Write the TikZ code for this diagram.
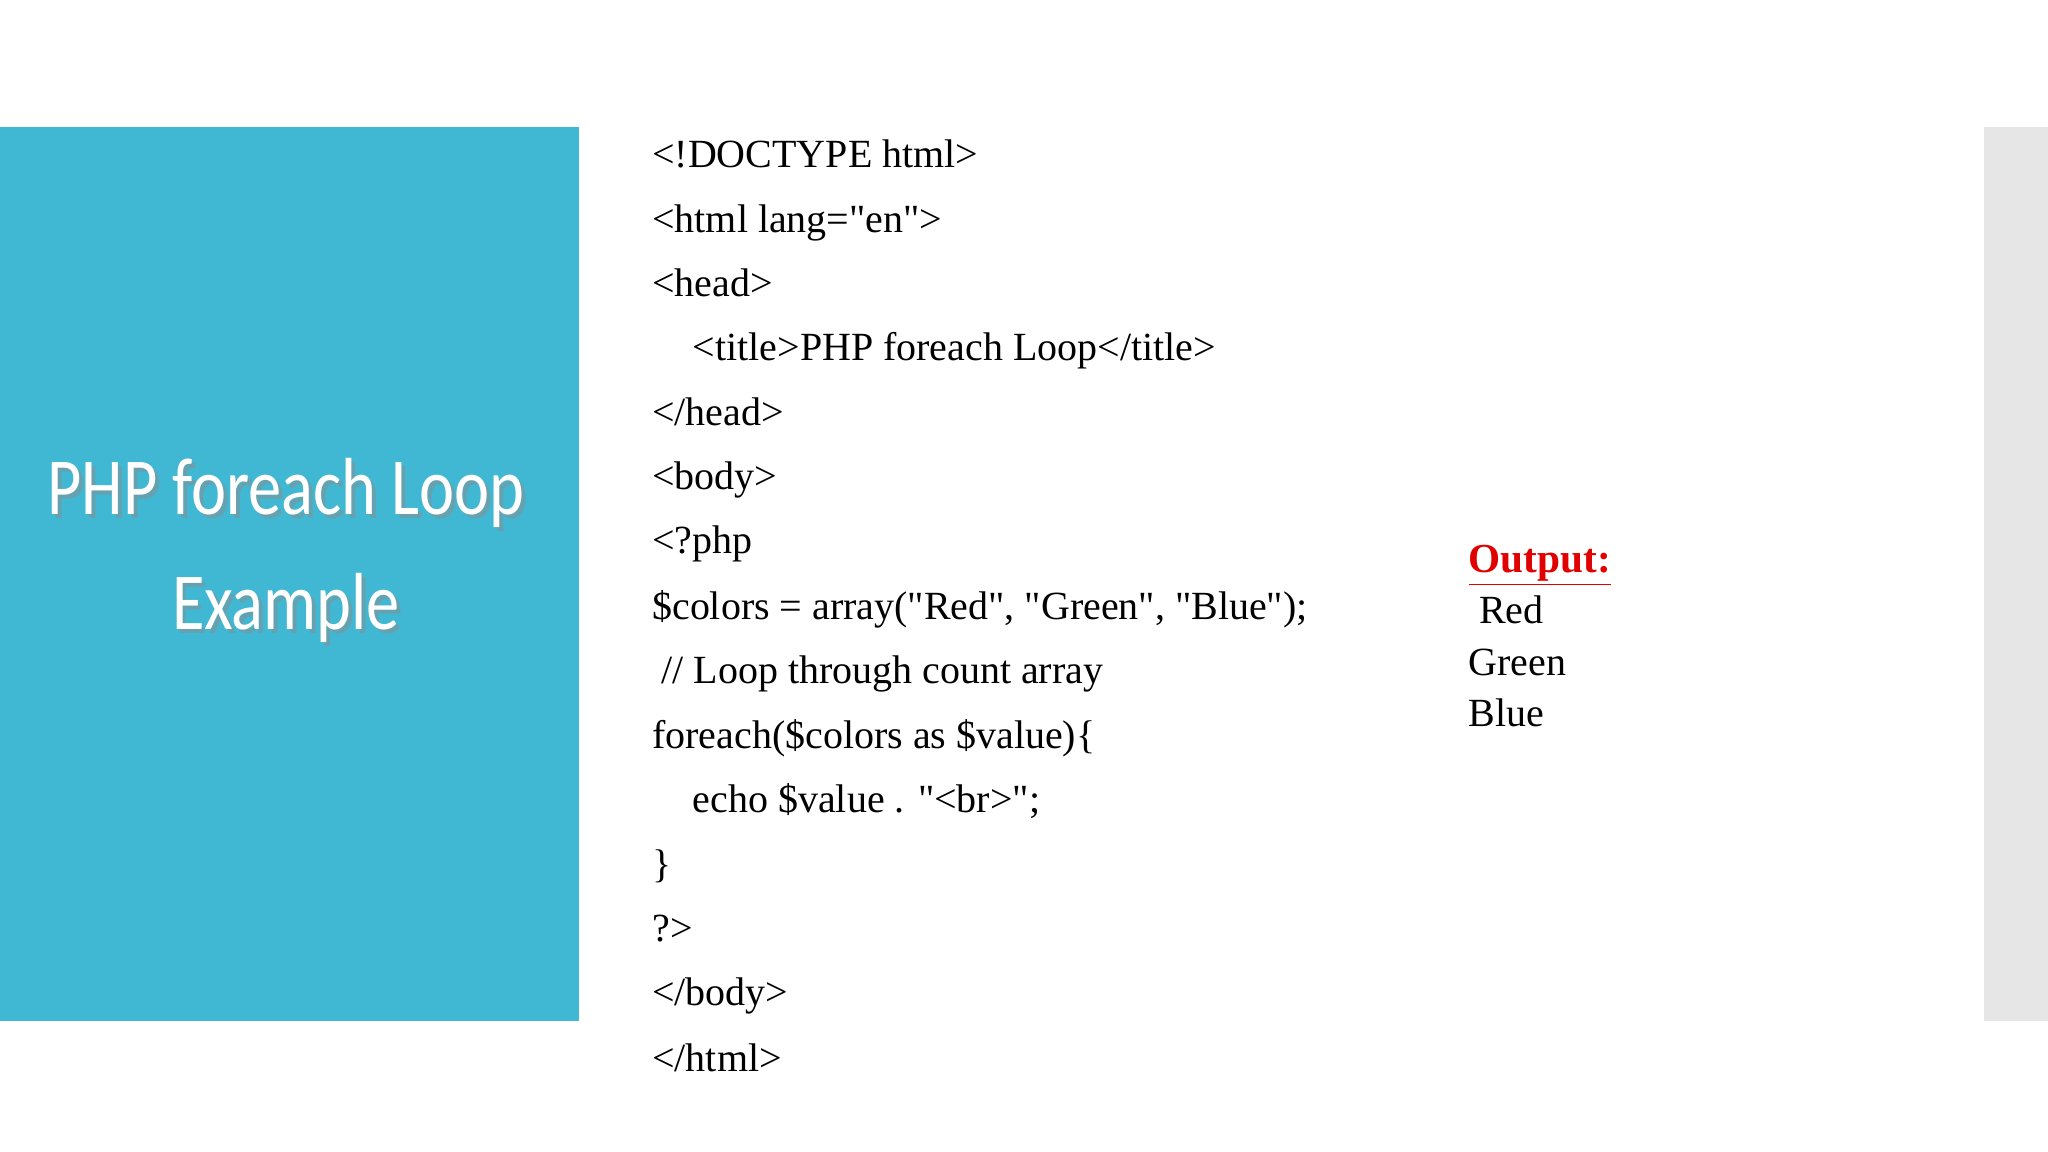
\documentclass[tikz,border=0pt]{standalone}
\usepackage{fontspec}
\setmainfont{Liberation Serif}[Ligatures=TeXOff]
\newfontfamily\titlefont{Carlito}
\usepackage{xcolor}
\usepackage{graphicx}
\definecolor{panelblue}{HTML}{41B8D3}
\definecolor{panelgray}{HTML}{E6E6E6}
\definecolor{outred}{HTML}{E00000}
\newcommand{\ttltext}{\scalebox{0.82}[1]{\begin{tabular}{c}PHP foreach Loop\\[2pt]Example\end{tabular}}}
\begin{document}
\begin{tikzpicture}[x=0.5pt,y=-0.5pt,
  code/.style={anchor=west,inner sep=0pt,text height=11pt,text depth=3pt,font=\fontsize{15.3}{18}\selectfont},
  ttl/.style={text=white,inner sep=0pt,font=\titlefont\fontsize{31}{42}\selectfont}]
\useasboundingbox (0,0) rectangle (1568,882);
\fill[panelblue] (0,97) rectangle (443,782);
\fill[panelgray] (1519,97) rectangle (1568,782);
\node[ttl,text=black!45,opacity=0.5] at (222,424) {\ttltext};
\node[ttl] (t) at (219,421) {\ttltext};
\node[code] (l1) at (499,120) {<!DOCTYPE html>};
\node[code] (l2) at (499,170) {<html lang="en">};
\node[code] (l3) at (499,219) {<head>};
\node[code] (l4) at (530,268) {<title>PHP foreach Loop</title>};
\node[code] (l5) at (499,318) {</head>};
\node[code] (l6) at (499,367) {<body>};
\node[code] (l7) at (499,416) {<?php};
\node[code] (l8) at (499,466) {\$colors = array("Red", "Green", "Blue");};
\node[code] (l9) at (506,515) {// Loop through count array};
\node[code] (l10) at (499,565) {foreach(\$colors as \$value)\{};
\node[code] (l11) at (530,614) {echo \$value . "<br>";};
\node[code] (l12) at (499,664) {\}};
\node[code] (l13) at (499,713) {?>};
\node[code] (l14) at (499,762) {</body>};
\node[code] (l15) at (499,812) {</html>};
\node[code,text=outred,font=\fontsize{15.8}{18}\selectfont\bfseries] (o) at (1124,430) {\underline{Output:}};
\node[code] (r) at (1132,469) {Red};
\node[code] (g) at (1124,509) {Green};
\node[code] (b) at (1124,548) {Blue};
\end{tikzpicture}
\end{document}
